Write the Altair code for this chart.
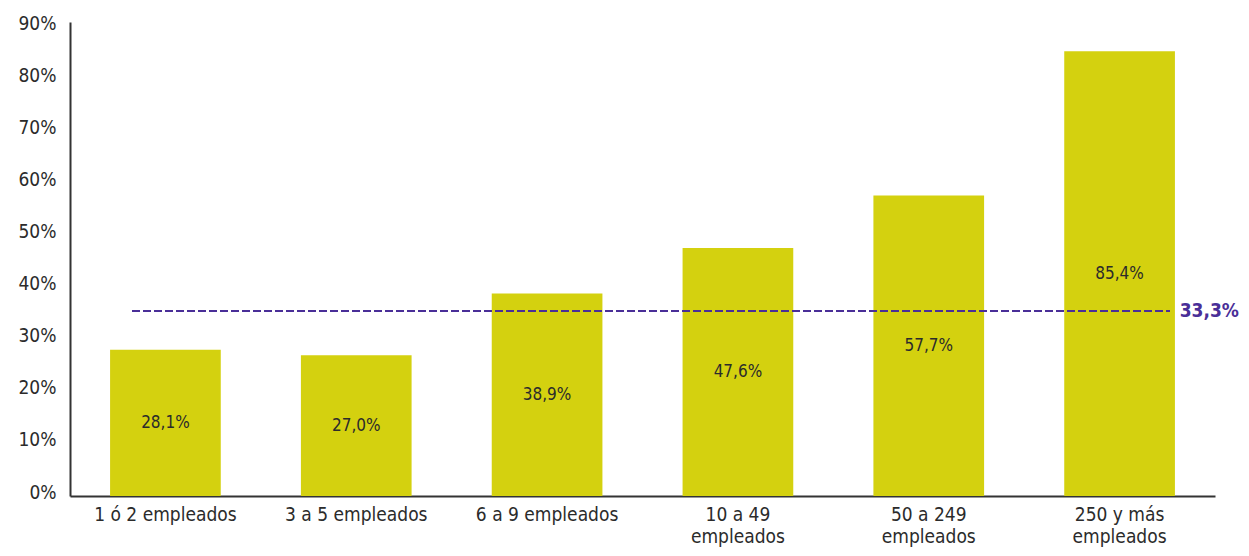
import altair as alt
import pandas as pd

categories = ["1 ó 2 empleados", "3 a 5 empleados", "6 a 9 empleados",
              "10 a 49|empleados", "50 a 249|empleados", "250 y más|empleados"]
values = [28.1, 27.0, 38.9, 47.6, 57.7, 85.4]
value_labels = ["28,1%", "27,0%", "38,9%", "47,6%", "57,7%", "85,4%"]
y_ticks = [0, 10, 20, 30, 40, 50, 60, 70, 80, 90]
ref_value = [35.5]
ref_label = ["33,3%"]

FONT = "'DejaVu Sans Condensed', 'Liberation Sans Narrow', Roboto, sans-serif"
BAR = "#d4d10f"
PURPLE = "#4a2f98"
TEXT = "#2b2b2b"

df = pd.DataFrame({"cat": categories, "value": values, "label": value_labels})
ref = pd.DataFrame({"y": ref_value, "label": ref_label})

x_enc = alt.X("cat:N", sort=categories, title=None,
              scale=alt.Scale(paddingInner=0.42, paddingOuter=0.21),
              axis=alt.Axis(labelAngle=0, labelExpr="split(datum.label, '|')",
                            labelFont=FONT, labelFontSize=19, labelColor=TEXT,
                            labelPadding=9, labelLineHeight=22, ticks=False,
                            domainColor="#333333", domainWidth=2, labelBaseline="top"))
y_scale = alt.Scale(domain=[0, 91], nice=False)

bars = alt.Chart(df).mark_bar(color=BAR).encode(
    x=x_enc,
    y=alt.Y("value:Q", scale=y_scale, title=None,
            axis=alt.Axis(values=y_ticks, labelExpr="datum.value + '%'", grid=False,
                          ticks=False, labelFont=FONT, labelFontSize=19,
                          labelColor=TEXT, labelPadding=14, labelOffset=-4,
                          domainColor="#333333", domainWidth=2)),
)

texts = alt.Chart(df).transform_calculate(mid="datum.value / 2").mark_text(
    font=FONT, fontSize=17, color=TEXT, baseline="middle"
).encode(
    x=alt.X("cat:N", sort=categories),
    y=alt.Y("mid:Q", scale=y_scale),
    text="label:N",
)

rule = alt.Chart(ref).mark_rule(color=PURPLE, strokeWidth=2, strokeDash=[8, 3]).encode(
    y=alt.Y("y:Q", scale=y_scale),
    x=alt.value(62),
    x2=alt.value(1100),
)

ref_text = alt.Chart(ref).mark_text(
    font=FONT, fontSize=19, fontWeight="bold", color=PURPLE, align="right", baseline="middle"
).encode(
    y=alt.Y("y:Q", scale=y_scale),
    x=alt.value(1169),
    text="label:N",
)

chart = alt.layer(bars, texts, rule, ref_text).properties(
    width=1145, height=474,
    background="white",
    autosize=alt.AutoSizeParams(type="none"),
    padding={"left": 62, "top": 14, "right": 26, "bottom": 52},
).configure_view(strokeWidth=0, stroke="transparent")

chart.save("out.html", embed_options={"renderer": "svg", "actions": False})
